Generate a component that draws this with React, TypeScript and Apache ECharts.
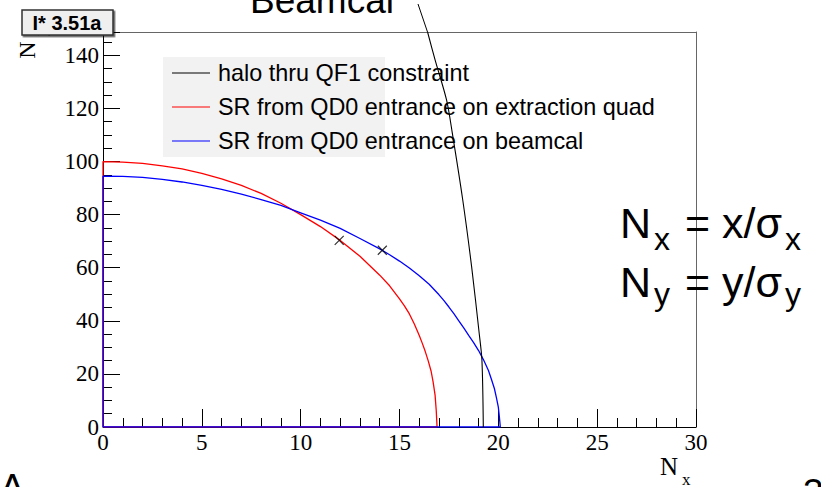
import React, { useEffect, useRef } from "react";
import * as echarts from "echarts";

// ---- data ----
const X_MIN = 0;
const X_MAX = 30;
const X_MAJOR = 5;
const Y_MIN = 0;
const Y_MAX = 148.8;
const Y_MAJOR = 20;
const Y_MINOR = 5;

const seriesNames = [
  "halo thru QF1 constraint",
  "SR from QD0 entrance on extraction quad",
  "SR from QD0 entrance on beamcal",
];
const seriesColors = ["#000000", "#ff0000", "#0000ff"];

const haloQF1: [number, number][] = [
  [19.24, 0], [19.17, 25.2], [19.03, 35.4], [18.65, 60.3], [18.2, 85.5],
  [17.67, 110.8], [17.38, 123.2], [16.8, 138.3], [16.42, 148.8],
];

const srExtractionQuad: [number, number][] = [
  [0, 0], [0, 100], [1, 99.8], [2, 99.3], [3, 98.4], [4, 97.2], [5, 95.5],
  [6, 93.5], [7, 91], [8, 88], [9, 84.3], [10, 80], [11, 75.5], [12, 70.3],
  [13, 64.3], [14, 57.2], [14.5, 53.2], [15, 48.3], [15.25, 45.6], [15.5, 42.6],
  [15.75, 38.8], [16, 34.5], [16.15, 31.6], [16.3, 28.5], [16.45, 25], [16.6, 21],
  [16.7, 17], [16.8, 12], [16.86, 6], [16.9, 0], [0, 0],
];

const srBeamcal: [number, number][] = [
  [0, 0], [0, 94.5], [1, 94.4], [2, 94], [3, 93.3], [4, 92.3], [5, 91],
  [6, 89.5], [7, 87.7], [8, 85.7], [9, 83.5], [10, 80.7], [11, 77.9],
  [12, 74.8], [13, 71], [14, 67.1], [14.5, 64.9], [15, 62.5], [15.5, 59.9],
  [16, 57], [16.5, 53.8], [17, 49.8], [17.25, 47.6], [17.5, 45.2], [17.75, 42.7],
  [18, 40], [18.25, 37.3], [18.5, 34.5], [18.75, 31.8], [19, 28.8], [19.25, 25.3],
  [19.5, 21.3], [19.65, 18], [19.8, 14.5], [19.9, 11.2], [20, 7.5], [20.05, 4],
  [20.1, 0], [0, 0],
];

const crossMarkers: [number, number][] = [
  [11.95, 70.3],
  [14.13, 66.6],
];

const plotLabel = "I* 3.51a";

const SANS = '"Liberation Sans", Arial, Helvetica, sans-serif';
const SERIF = '"Liberation Serif", "Times New Roman", Times, serif';

export default function App() {
  const ref = useRef<HTMLDivElement>(null);

  useEffect(() => {
    if (!ref.current) return;
    const chart = echarts.init(ref.current, undefined, { renderer: "svg" });

    const legendRowsY = [73, 107, 141];
    const legendGraphics: any[] = [
      { type: "rect", z: 1, shape: { x: 163, y: 57, width: 222, height: 100 }, style: { fill: "#f2f2f2" } },
    ];
    seriesNames.forEach((name, i) => {
      legendGraphics.push({
        type: "line", z: 1,
        shape: { x1: 172, y1: legendRowsY[i], x2: 210, y2: legendRowsY[i] },
        style: { stroke: seriesColors[i], lineWidth: 1 },
      });
      legendGraphics.push({
        type: "text", z: 1, x: 218, y: legendRowsY[i],
        style: { text: name, font: `23.4px ${SANS}`, fill: "#000", verticalAlign: "middle", align: "left" },
      });
    });

    const txt = (text: string, x: number, y: number, font: string, extra: any = {}) => ({
      type: "text", x, y, z: 20, ...extra,
      style: { text, font, fill: "#000", verticalAlign: "middle", align: "left" },
    });

    const option: any = {
      animation: false,
      backgroundColor: "#ffffff",
      grid: { left: 103, top: 32, width: 593, height: 395, containLabel: false, show: false },
      xAxis: [
        {
          type: "value", position: "bottom", min: X_MIN, max: X_MAX, interval: X_MAJOR,
          axisLine: { show: true, onZero: false, lineStyle: { color: "#000", width: 1 } },
          axisTick: { show: true, inside: true, length: 18, lineStyle: { color: "#000", width: 1 } },
          minorTick: { show: true, splitNumber: 5, length: 9, lineStyle: { color: "#000", width: 1 } },
          axisLabel: { fontFamily: SERIF, fontSize: 23, color: "#000", margin: 4 },
          splitLine: { show: false },
        },
        {
          type: "value", position: "top", min: X_MIN, max: X_MAX,
          axisLine: { show: true, onZero: false, lineStyle: { color: "#666", width: 1 } },
          axisTick: { show: false }, axisLabel: { show: false }, splitLine: { show: false },
        },
      ],
      yAxis: [
        {
          type: "value", position: "left", min: Y_MIN, max: Y_MAX, interval: Y_MAJOR,
          axisLine: { show: true, onZero: false, lineStyle: { color: "#000", width: 1 } },
          axisTick: { show: true, inside: true, length: 17, lineStyle: { color: "#000", width: 1 } },
          axisLabel: {
            fontFamily: SERIF, fontSize: 23, color: "#000", margin: 4,
            formatter: (v: number) => (Math.abs(v % Y_MAJOR) < 1e-9 ? String(v) : ""),
          },
          splitLine: { show: false },
        },
        {
          type: "value", position: "left", min: Y_MIN, max: Y_MAX, interval: Y_MINOR,
          axisLine: { show: false },
          axisTick: { show: true, inside: true, length: 9, lineStyle: { color: "#000", width: 1 } },
          axisLabel: { show: false }, splitLine: { show: false },
        },
        {
          type: "value", position: "right", min: Y_MIN, max: Y_MAX,
          axisLine: { show: true, onZero: false, lineStyle: { color: "#666", width: 1 } },
          axisTick: { show: false }, axisLabel: { show: false }, splitLine: { show: false },
        },
      ],
      series: [
        {
          type: "line", name: seriesNames[1], data: srExtractionQuad, xAxisIndex: 0, yAxisIndex: 0,
          showSymbol: false, symbol: "none", z: 3,
          lineStyle: { color: seriesColors[1], width: 1.3 }, itemStyle: { color: seriesColors[1] },
        },
        {
          type: "line", name: seriesNames[2], data: srBeamcal, xAxisIndex: 0, yAxisIndex: 0,
          showSymbol: false, symbol: "none", z: 4,
          lineStyle: { color: seriesColors[2], width: 1.3 }, itemStyle: { color: seriesColors[2] },
        },
        {
          type: "line", name: seriesNames[0], data: haloQF1, xAxisIndex: 0, yAxisIndex: 0,
          showSymbol: false, symbol: "none", z: 5, smooth: 0.3,
          lineStyle: { color: seriesColors[0], width: 1.1 }, itemStyle: { color: seriesColors[0] },
        },
        {
          type: "scatter", name: "markers", data: crossMarkers, xAxisIndex: 0, yAxisIndex: 0,
          symbol: "path://M0,0L10,10M10,0L0,10", symbolSize: 9, z: 6,
          itemStyle: { color: "none", borderColor: "#000", borderWidth: 1.2 },
        },
      ],
      graphic: [
        ...legendGraphics,
        // pointer from the "Beamcal" caption
        { type: "line", z: 5, shape: { x1: 418, y1: 4, x2: 427.5, y2: 32 }, style: { stroke: "#000", lineWidth: 1 } },
        txt("Beamcal", 250, 0.5, `37px ${SANS}`),
        txt("A", 0, 487, `37px ${SANS}`),
        txt("3", 803, 492, `37px ${SANS}`),
        // formula
        txt("N", 620, 223, `43px ${SANS}`),
        txt("x", 654, 239, `32px ${SANS}`),
        txt("= x/σ", 685, 223, `43px ${SANS}`),
        txt("x", 785, 239, `32px ${SANS}`),
        txt("N", 620, 282, `43px ${SANS}`),
        txt("y", 654, 294, `32px ${SANS}`),
        txt("= y/σ", 685, 282, `43px ${SANS}`),
        txt("y", 785, 294, `32px ${SANS}`),
        // axis titles
        txt("N", 660, 466, `25px ${SERIF}`),
        txt("x", 682, 479, `17px ${SERIF}`),
        {
          type: "text", x: 27, y: 50, rotation: Math.PI / 2, z: 20,
          style: { text: "N", font: `24px ${SERIF}`, fill: "#000", align: "center", verticalAlign: "middle" },
        },
        {
          type: "text", x: 40, y: 32, rotation: Math.PI / 2, z: 20,
          style: { text: "y", font: `16px ${SERIF}`, fill: "#000", align: "center", verticalAlign: "middle" },
        },
        // label box
        {
          type: "rect", z: 100,
          shape: { x: 22, y: 10, width: 91, height: 25 },
          style: { fill: "#efefef", stroke: "#333", lineWidth: 1.5, shadowColor: "rgba(0,0,0,0.6)", shadowOffsetX: 1.5, shadowOffsetY: 1.5, shadowBlur: 0 },
        },
        {
          type: "text", x: 67, y: 23, z: 101,
          style: { text: plotLabel, font: `bold 20px ${SANS}`, fill: "#000", align: "center", verticalAlign: "middle" },
        },
      ],
    };

    chart.setOption(option);
    return () => chart.dispose();
  }, []);

  return (
    <div
      ref={ref}
      style={{ position: "absolute", left: 0, top: 0, width: 821, height: 487, background: "#fff" }}
    />
  );
}
